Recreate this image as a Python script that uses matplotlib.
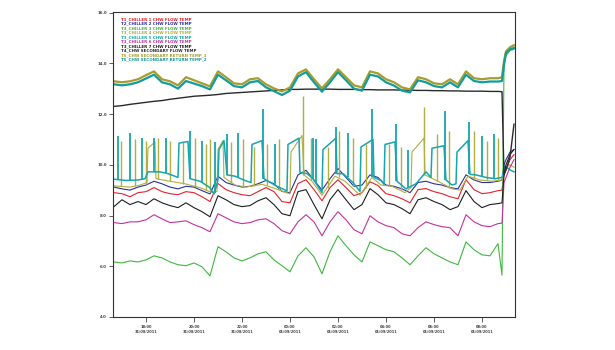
import matplotlib
matplotlib.use("Agg")
import matplotlib.pyplot as plt
import numpy as np

# sample times, minutes after 18:00 on 31/08/2011
t_grid = list(np.arange(-80, 881, 20)) + [890, 895, 900, 910, 920]

chiller1 = [8.9, 8.86, 8.74, 8.9, 8.94, 9.1, 8.94, 8.86, 8.82, 8.94, 8.9, 8.74, 8.55, 9.26, 9.02, 8.9, 8.82,
            8.78, 8.94, 9.1, 8.94, 8.55, 8.5, 9.26, 9.41, 9.02, 8.58, 9.1, 9.41, 9.1, 8.78, 8.9, 9.33, 9.18,
            8.86, 8.78, 8.66, 8.5, 9.02, 9.06, 8.94, 8.86, 8.74, 8.66, 9.41, 9.02, 8.86, 8.9, 8.98,
            9.0, 9.6, 9.8, 10.2, 10.4]
chiller2 = [9.12, 9.05, 9.0, 9.12, 9.2, 9.35, 9.25, 9.12, 9.05, 9.15, 9.12, 8.98, 8.85, 9.55, 9.3, 9.2, 9.12,
            9.15, 9.25, 9.38, 9.25, 8.95, 8.9, 9.6, 9.78, 9.4, 9.0, 9.45, 9.85, 9.5, 9.15, 9.2, 9.6, 9.5,
            9.2, 9.15, 9.05, 8.9, 9.3, 9.35, 9.25, 9.2, 9.1, 9.05, 9.6, 9.4, 9.3, 9.3, 9.35,
            9.4, 10.0, 10.2, 10.5, 10.6]
chiller3 = [6.17, 6.13, 6.21, 6.17, 6.25, 6.41, 6.33, 6.17, 6.06, 6.02, 6.13, 5.98, 5.62, 6.77, 6.57, 6.33, 6.21,
            6.33, 6.49, 6.57, 6.25, 6.02, 5.78, 6.41, 6.73, 6.37, 5.7, 6.57, 7.2, 6.81, 6.45, 6.17, 6.96, 6.81,
            6.65, 6.57, 6.33, 6.06, 6.41, 6.73, 6.49, 6.33, 6.17, 6.06, 6.96, 6.65, 6.45, 6.41, 6.89,
            5.65, 13.9, 14.3, 14.5, 14.55]
chiller6 = [7.72, 7.68, 7.75, 7.75, 7.83, 8.03, 7.87, 7.72, 7.75, 7.79, 7.64, 7.52, 7.36, 8.07, 7.91, 7.75, 7.68,
            7.72, 7.83, 7.87, 7.68, 7.4, 7.28, 7.75, 8.03, 7.75, 7.2, 7.75, 8.15, 7.83, 7.44, 7.28, 7.99, 7.75,
            7.6, 7.52, 7.28, 7.2, 7.52, 7.75, 7.64, 7.56, 7.52, 7.2, 8.03, 7.75, 7.6, 7.56, 7.68,
            7.7, 9.3, 9.5, 9.9, 10.2]
chiller7 = [8.35, 8.62, 8.43, 8.55, 8.43, 8.66, 8.5, 8.39, 8.31, 8.5, 8.31, 8.15, 7.95, 8.78, 8.62, 8.43, 8.35,
            8.39, 8.58, 8.7, 8.43, 8.07, 7.99, 8.94, 9.02, 8.43, 7.87, 8.62, 9.02, 8.62, 8.23, 8.43, 9.06, 8.82,
            8.5, 8.43, 8.27, 8.07, 8.62, 8.7, 8.55, 8.43, 8.23, 8.35, 8.98, 8.55, 8.31, 8.43, 8.47,
            8.5, 9.6, 10.0, 10.4, 10.6]
sec_flow = [12.3, 12.33, 12.38, 12.42, 12.46, 12.5, 12.53, 12.58, 12.62, 12.66, 12.7, 12.72, 12.74, 12.77, 12.81, 12.83, 12.85,
            12.87, 12.89, 12.91, 12.93, 12.95, 12.97, 12.97, 12.98, 12.98, 12.98, 12.98, 12.97, 12.97, 12.97, 12.96, 12.96, 12.95,
            12.95, 12.95, 12.94, 12.94, 12.93, 12.93, 12.92, 12.92, 12.91, 12.91, 12.9, 12.9, 12.9, 12.89, 12.89,
            12.88, 9.6, 9.8, 10.3, 11.6]
sec_ret1 = [13.29, 13.25, 13.29, 13.37, 13.53, 13.68, 13.37, 13.29, 13.13, 13.45, 13.33, 13.21, 13.09, 13.68, 13.45, 13.21, 13.17,
            13.37, 13.41, 13.17, 13.01, 12.89, 13.05, 13.6, 13.76, 13.37, 13.01, 13.37, 13.76, 13.45, 13.13, 13.05, 13.68, 13.6,
            13.37, 13.25, 13.05, 12.97, 13.45, 13.37, 13.21, 13.17, 13.37, 13.17, 13.68, 13.41, 13.37, 13.41, 13.41,
            13.45, 14.08, 14.47, 14.63, 14.71]
sec_ret2 = [13.17, 13.13, 13.17, 13.25, 13.4, 13.55, 13.25, 13.17, 13.0, 13.3, 13.2, 13.1, 12.97, 13.55, 13.33, 13.1, 13.05,
            13.25, 13.3, 13.05, 12.9, 12.75, 12.92, 13.48, 13.65, 13.25, 12.88, 13.25, 13.65, 13.33, 13.0, 12.92, 13.55, 13.48,
            13.25, 13.12, 12.92, 12.85, 13.33, 13.25, 13.1, 13.05, 13.25, 13.05, 13.55, 13.3, 13.25, 13.28, 13.28,
            13.3, 13.95, 14.4, 14.55, 14.6]

# chiller 4 and 5 have their own (irregular) times plus short spikes
t_ch4 = [-80, -40, -15, 2.5, 5, 22.5, 25, 60, 97.5, 135, 165, 177.5, 180, 192.5, 195, 222.5, 250, 290, 325,
         360, 362.5, 390, 395, 415, 440, 472.5, 497.5, 535, 565, 587.5, 615, 647.5, 662.5, 665, 695, 697.5,
         730, 765, 785, 805, 835, 865, 890, 897.5, 910, 920]
chiller4 = [9.17, 9.12, 9.2, 9.3, 10.65, 10.9, 9.45, 9.35, 9.25, 9.1, 8.9, 8.95, 10.6, 10.95, 9.5, 9.2, 9.12, 9.23, 9.05,
            8.85, 10.5, 11.15, 9.6, 9.35, 8.8, 9.55, 9.35, 8.8, 9.5, 9.2, 9.15, 8.9, 9.1, 10.5, 11.05, 9.6,
            9.35, 9.05, 9.0, 9.55, 9.4, 9.35, 9.4, 9.85, 10.0, 9.9]
spk4_t = [-62.5, -27.5, 0, 30, 60, 92.5, 122.5, 150, 160, 212.5, 242.5, 270, 302.5, 332.5, 392.5, 412.5,
          455, 482.5, 517.5, 550, 607.5, 637.5, 695, 727.5, 757.5, 820, 852.5, 880]
spk4_lo = [9.15, 9.15, 9.25, 9.45, 9.35, 9.25, 9.15, 9.0, 8.95, 9.3, 9.15, 9.15, 9.2, 9.0, 9.6, 9.4,
           9.1, 9.5, 9.15, 9.1, 9.15, 9.0, 9.6, 9.35, 9.1, 9.4, 9.4, 9.35]
spk4_hi = [10.94, 11.0, 10.94, 11.07, 10.94, 10.88, 11.07, 10.81, 11.0, 10.88, 11.0, 10.68, 10.81, 11.0, 12.7, 11.07,
           10.7, 11.34, 11.07, 10.81, 10.8, 10.7, 12.26, 11.2, 11.34, 11.34, 10.94, 11.07]

t_ch5 = [-80, -50, -20, -2.5, 5, 35, 55, 80, 82.5, 105, 110, 135, 160, 170, 180, 182.5, 195, 202.5, 222.5,
         247.5, 262.5, 265, 290, 295, 325, 352.5, 355, 382.5, 385, 402.5, 417.5, 440, 442.5, 475, 477.5,
         492.5, 517.5, 535, 537.5, 567.5, 570, 587.5, 595, 597.5, 622.5, 627.5, 650, 675, 700, 712.5, 715,
         745, 750, 765, 775, 777.5, 805, 810, 825, 850, 872.5, 890, 897.5, 910, 920]
chiller5 = [9.43, 9.38, 9.4, 9.45, 9.72, 9.72, 9.65, 9.5, 10.85, 10.92, 9.45, 9.35, 9.1, 8.85, 9.4, 10.6, 10.95, 9.6, 9.55,
            9.38, 9.3, 10.8, 10.95, 9.45, 9.17, 8.97, 10.8, 11.05, 9.7, 9.65, 9.45, 8.9, 10.6, 11.05, 9.65,
            9.65, 9.3, 8.95, 10.7, 11.0, 9.5, 9.38, 9.23, 10.8, 10.9, 9.35, 9.05, 9.25, 9.72, 9.5, 10.65,
            10.75, 9.4, 9.2, 9.25, 10.5, 10.95, 9.62, 9.6, 9.5, 9.45, 9.5, 9.95, 9.8, 9.72]
spk5_t = [-70, -40, -10, 20, 50, 110, 140, 172.5, 202.5, 230, 292.5, 322.5, 417.5, 425, 475, 505, 565,
          625, 655, 747.5, 807.5, 840, 870]
spk5_lo = [9.4, 9.38, 9.4, 9.72, 9.68, 9.45, 9.3, 8.9, 9.6, 9.5, 9.45, 9.2, 9.45, 9.3, 9.65, 9.5, 9.5,
           9.35, 9.1, 9.4, 9.62, 9.55, 9.45]
spk5_hi = [11.14, 11.27, 11.07, 11.07, 11.07, 11.34, 10.94, 10.9, 11.2, 11.27, 12.2, 10.8, 11.07, 11.0, 11.47, 11.27, 12.18,
           11.6, 10.6, 12.1, 11.7, 11.14, 11.2]

tick_pos = [0, 120, 240, 360, 480, 600, 720, 840]
tick_lab = ["18:00\n31/08/2011", "20:00\n31/08/2011", "22:00\n31/08/2011", "00:00\n01/09/2011",
            "02:00\n01/09/2011", "04:00\n01/09/2011", "06:00\n01/09/2011", "08:00\n01/09/2011"]

c1, c2, c3, c4, c5 = "#e3222c", "#2b2f9e", "#3fb83f", "#b2ae40", "#17a6ab"
c6, c7, c8, c9, c10 = "#c2329e", "#1e1e1e", "#2a2a2a", "#a99c2e", "#139c9c"

fig = plt.figure(figsize=(6.15, 3.5), dpi=100)
ax = fig.add_axes([0.1837, 0.0943, 0.6537, 0.8714])

lw = 0.8
ax.plot(t_grid, chiller1, color=c1, lw=lw, label="T1_CHILLER 1 CHW FLOW TEMP")
ax.plot(t_grid, chiller2, color=c2, lw=lw, label="T2_CHILLER 2 CHW FLOW TEMP")
ax.plot(t_grid, chiller3, color=c3, lw=lw, label="T3_CHILLER 3 CHW FLOW TEMP")
ax.plot(t_ch4, chiller4, color=c4, lw=lw, label="T3_CHILLER 4 CHW FLOW TEMP")
ax.vlines(spk4_t, spk4_lo, spk4_hi, color=c4, lw=1.0)
ax.plot(t_ch5, chiller5, color=c5, lw=1.1, label="T3_CHILLER 5 CHW FLOW TEMP")
ax.vlines(spk5_t, spk5_lo, spk5_hi, color=c5, lw=1.3)
ax.plot(t_grid, chiller6, color=c6, lw=lw, label="T3_CHILLER 6 CHW FLOW TEMP")
ax.plot(t_grid, chiller7, color=c7, lw=lw, label="T3_CHILLER 7 CHW FLOW TEMP")
ax.plot(t_grid, sec_flow, color=c8, lw=1.0, label="T4_CHW SECONDARY FLOW TEMP")
ax.plot(t_grid, sec_ret1, color=c9, lw=1.6, label="T5_CHW SECONDARY RETURN TEMP_1")
ax.plot(t_grid, sec_ret2, color=c10, lw=1.6, label="T5_CHW SECONDARY RETURN TEMP_2")

ax.set_xlim(-82.5, 922.5)
ax.set_ylim(4, 16.02)
ax.set_xticks(tick_pos)
ax.set_xticklabels(tick_lab)
ax.set_yticks([4, 6, 8, 10, 12, 14, 16])
ax.set_yticklabels(["4.0", "6.0", "8.0", "10.0", "12.0", "14.0", "16.0"])
ax.tick_params(axis="x", length=3.5, width=0.6, color="#444444", labelsize=2.6, labelcolor="#444444", pad=2.5)
ax.tick_params(axis="y", length=3, width=0.6, color="#444444", labelsize=2.8, labelcolor="#444444", pad=1.5)
for lab in ax.get_xticklabels() + ax.get_yticklabels():
    lab.set_fontweight("bold")
for s in ax.spines.values():
    s.set_color("#333333")
    s.set_linewidth(0.8)

leg = ax.legend(loc="upper left", bbox_to_anchor=(0.015, 0.99), frameon=False, handlelength=0,
                handletextpad=0, labelcolor="linecolor", labelspacing=0.12, borderpad=0,
                prop={"size": 2.9, "weight": "bold"})
for h in leg.legend_handles:
    h.set_visible(False)

fig.savefig("out.png", dpi=100)
